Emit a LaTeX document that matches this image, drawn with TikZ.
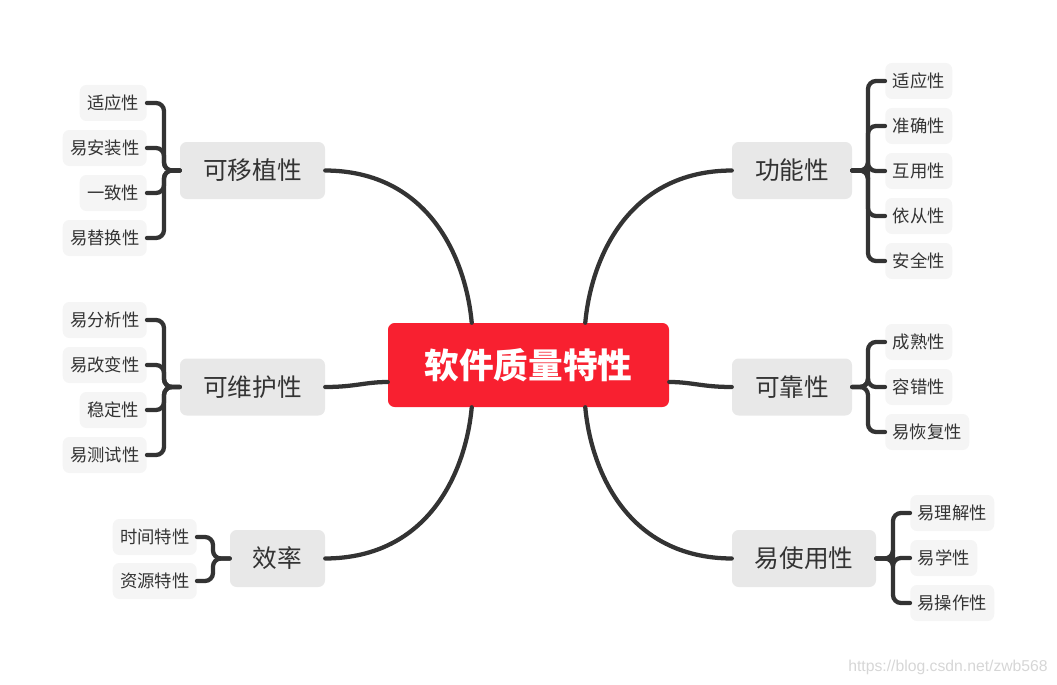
\documentclass[tikz,border=0pt]{standalone}
\usepackage{fontspec}
\setmainfont{Noto Sans CJK SC}
\newfontfamily\wmfont{Liberation Sans}
\usetikzlibrary{calc}
\definecolor{rootred}{HTML}{F82030}
\definecolor{maingray}{HTML}{E8E8E8}
\definecolor{leafgray}{HTML}{F5F5F5}
\definecolor{textc}{HTML}{333333}
\definecolor{linec}{HTML}{333333}
\definecolor{wmc}{HTML}{D6D6D6}
\begin{document}
\begin{tikzpicture}[x=0.75pt,y=-0.75pt,
  root/.style={fill=rootred, rounded corners=5pt, text=white, inner sep=0pt,
    font=\fontsize{26}{30}\selectfont\bfseries, minimum width=281*0.75pt, minimum height=84*0.75pt},
  mainbox/.style={fill=maingray, rounded corners=5pt, text=textc, inner sep=0pt,
    font=\fontsize{18.5}{22}\selectfont, minimum height=57*0.75pt},
  leaf/.style={fill=leafgray, rounded corners=5pt, text=textc, inner sep=0pt,
    font=\fontsize{13}{16}\selectfont, minimum height=36*0.75pt},
  three/.style={minimum width=67*0.75pt},
  four/.style={minimum width=84*0.75pt},
  conn/.style={draw=linec, line width=3.2pt, line cap=round},
  br/.style={conn, rounded corners=6pt}
]
\useasboundingbox (0,0) rectangle (1057,685);

% root
\node[root] (root) at (528.5,365) {软件质量特性};

% main nodes
\node[mainbox, minimum width=145*0.75pt] (m1) at (252.5,170.5) {可移植性};
\node[mainbox, minimum width=145*0.75pt] (m2) at (252.5,387) {可维护性};
\node[mainbox, minimum width=95*0.75pt]  (m3) at (277.5,558.5) {效率};
\node[mainbox, minimum width=120*0.75pt] (m4) at (792,170.5) {功能性};
\node[mainbox, minimum width=120*0.75pt] (m5) at (792,387) {可靠性};
\node[mainbox, minimum width=144*0.75pt] (m6) at (804,558.5) {易使用性};

% left group 1
\node[leaf, three, anchor=east] (a1) at (147,103) {适应性};
\node[leaf, four,  anchor=east] (a2) at (147,148) {易安装性};
\node[leaf, three, anchor=east] (a3) at (147,193) {一致性};
\node[leaf, four,  anchor=east] (a4) at (147,238) {易替换性};
% left group 2
\node[leaf, four,  anchor=east] (b1) at (147,320) {易分析性};
\node[leaf, four,  anchor=east] (b2) at (147,365) {易改变性};
\node[leaf, three, anchor=east] (b3) at (147,410) {稳定性};
\node[leaf, four,  anchor=east] (b4) at (147,455) {易测试性};
% left group 3
\node[leaf, four,  anchor=east] (c1) at (197,537) {时间特性};
\node[leaf, four,  anchor=east] (c2) at (197,581) {资源特性};
% right group 1
\node[leaf, three, anchor=west] (d1) at (885,81) {适应性};
\node[leaf, three, anchor=west] (d2) at (885,126) {准确性};
\node[leaf, three, anchor=west] (d3) at (885,171) {互用性};
\node[leaf, three, anchor=west] (d4) at (885,216) {依从性};
\node[leaf, three, anchor=west] (d5) at (885,261) {安全性};
% right group 2
\node[leaf, three, anchor=west] (e1) at (885,342) {成熟性};
\node[leaf, three, anchor=west] (e2) at (885,387) {容错性};
\node[leaf, four,  anchor=west] (e3) at (885,432) {易恢复性};
% right group 3
\node[leaf, four,  anchor=west] (f1) at (910,513) {易理解性};
\node[leaf, three, anchor=west] (f2) at (910,558) {易学性};
\node[leaf, four,  anchor=west] (f3) at (910,603) {易操作性};

% root connectors
\draw[conn] (m1.east) .. controls (430,171) and (466,260) .. ($(root.north west)+(84,0)$);
\draw[conn] (m4.west) .. controls (627,171) and (591,260) .. ($(root.north east)+(-84,0)$);
\draw[conn] (m3.east) .. controls (430,558) and (466,470) .. ($(root.south west)+(84,0)$);
\draw[conn] (m6.west) .. controls (627,558) and (591,470) .. ($(root.south east)+(-84,0)$);
\draw[conn] (m2.east) .. controls (355,387) and (365,382) .. ($(root.west)+(0,17)$);
\draw[conn] (m5.west) .. controls (702,387) and (692,382) .. ($(root.east)+(0,17)$);

% brackets left
\foreach \n in {a1,a2,a3,a4} \draw[br] (\n.east) -- ++(17,0) |- (m1.west);
\foreach \n in {b1,b2,b3,b4} \draw[br] (\n.east) -- ++(17,0) |- (m2.west);
\foreach \n in {c1,c2} \draw[br] (\n.east) -- ++(16,0) |- (m3.west);
% brackets right
\foreach \n in {d1,d2,d3,d4,d5} \draw[br] (\n.west) -- ++(-17,0) |- (m4.east);
\foreach \n in {e1,e2,e3} \draw[br] (\n.west) -- ++(-17,0) |- (m5.east);
\foreach \n in {f1,f2,f3} \draw[br] (\n.west) -- ++(-17,0) |- (m6.east);

% watermark
\node[text=wmc, font=\wmfont\fontsize{11.8}{13}\selectfont, anchor=east, inner sep=0pt] (wm) at (1048,667) {https://blog.csdn.net/zwb568};
\end{tikzpicture}
\end{document}
